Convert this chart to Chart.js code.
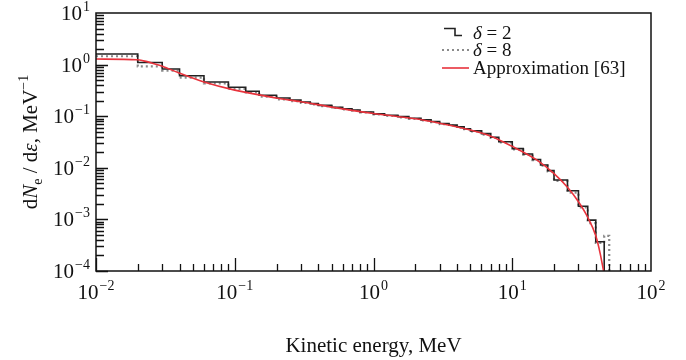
<!DOCTYPE html>
<html>
<head>
<meta charset="utf-8">
<script src="https://cdn.jsdelivr.net/npm/chart.js@4.4.1/dist/chart.umd.min.js"></script>
<style>
  html, body { margin: 0; padding: 0; background: #fff; }
</style>
</head>
<body>
<canvas id="spectrum" width="686" height="360"></canvas>
<script>
// histogram for delta = 2: bin edges (MeV) and dN/de in each bin
const edgesD2 = [0.01, 0.02, 0.03, 0.04, 0.06, 0.09, 0.12, 0.15, 0.2, 0.25, 0.3, 0.35, 0.4, 0.5, 0.6, 0.7, 0.8, 1.0,
  1.2, 1.5, 1.8, 2.2, 2.6, 3.0, 3.5, 4.0, 4.5, 5.0, 6.0, 7.0, 8.0, 10, 12, 14, 16, 18, 20, 25, 30, 35, 40, 46];
const valuesD2 = [1.6, 1.1, 0.82, 0.61, 0.46, 0.365, 0.305, 0.255, 0.225, 0.205, 0.188, 0.175, 0.162, 0.148, 0.139, 0.132, 0.121,
  0.111, 0.104, 0.098, 0.091, 0.085, 0.079, 0.072, 0.067, 0.062, 0.057, 0.052, 0.046, 0.039, 0.032,
  0.0235, 0.0185, 0.0145, 0.0113, 0.0088, 0.0058, 0.0036, 0.0018, 0.00097, 0.00037];

// histogram for delta = 8
const edgesD8 = [0.01, 0.02, 0.03, 0.04, 0.06, 0.09, 0.12, 0.15, 0.2, 0.25, 0.3, 0.35, 0.4, 0.5, 0.6, 0.7, 0.8, 1.0,
  1.2, 1.5, 1.8, 2.2, 2.6, 3.0, 3.5, 4.0, 4.5, 5.0, 6.0, 7.0, 8.0, 10, 12, 14, 16, 18, 20, 25, 30, 35, 40, 46, 50];
const valuesD8 = [1.45, 0.92, 0.76, 0.56, 0.43, 0.34, 0.29, 0.24, 0.212, 0.196, 0.182, 0.17, 0.157, 0.145, 0.136, 0.128, 0.118,
  0.108, 0.101, 0.095, 0.089, 0.083, 0.077, 0.07, 0.066, 0.06, 0.056, 0.051, 0.044, 0.038, 0.031,
  0.0228, 0.018, 0.014, 0.011, 0.0085, 0.0056, 0.0033, 0.0017, 0.00085, 0.00035, 0.00048];

// approximation curve
const approxEnergy = [0.01, 0.02, 0.022, 0.025, 0.03, 0.04, 0.06, 0.1, 0.2, 0.3, 0.5, 1, 2, 3, 5, 7, 10, 15, 20, 25, 30, 35, 40, 43, 45.5];
const approxValue = [1.28, 1.24, 1.18, 1.08, 0.93, 0.68, 0.46, 0.32, 0.225, 0.19, 0.15, 0.113, 0.089, 0.073, 0.054, 0.041,
  0.026, 0.0142, 0.0077, 0.0042, 0.0022, 0.0011, 0.00048, 0.00022, 0.0001];

const xMajor = [1e-2, 1e-1, 1, 10, 100];
const xMajorExp = ['\u22122', '\u22121', '0', '1', '2'];
const yMajor = [1e-4, 1e-3, 1e-2, 1e-1, 1, 10];
const yMajorExp = ['\u22124', '\u22123', '\u22122', '\u22121', '0', '1'];

const serif = '"Liberation Serif", "DejaVu Serif", serif';

// step line: flat across each bin, then down to the axis after the last one
function histPoints(edges, values) {
  const pts = values.map((v, i) => ({ x: edges[i], y: v }));
  pts.push({ x: edges[edges.length - 1], y: 1e-6 });
  return pts;
}

function drawPow(ctx, x, y, exp, align) {
  ctx.font = '21px ' + serif;
  const wb = ctx.measureText('10').width;
  ctx.font = '14px ' + serif;
  const we = ctx.measureText(exp).width;
  const w = wb + we + 1;
  let x0 = align === 'right' ? x - w : x - w / 2;
  ctx.textBaseline = 'alphabetic';
  ctx.textAlign = 'left';
  ctx.font = '21px ' + serif;
  ctx.fillText('10', x0, y);
  ctx.font = '14px ' + serif;
  ctx.fillText(exp, x0 + wb + 1, y - 9);
}

function drawRich(ctx, parts, x, y) {
  let cx = x;
  parts.forEach(p => {
    ctx.font = p.f;
    ctx.fillText(p.t, cx, y + (p.dy || 0));
    cx += ctx.measureText(p.t).width;
  });
  return cx - x;
}

function richWidth(ctx, parts) {
  let w = 0;
  parts.forEach(p => { ctx.font = p.f; w += ctx.measureText(p.t).width; });
  return w;
}

const axesPlugin = {
  id: 'axesPlugin',
  afterDraw(chart) {
    const { ctx, chartArea: a } = chart;
    const xs = chart.scales.x, ys = chart.scales.y;
    ctx.save();
    ctx.strokeStyle = '#111';
    ctx.fillStyle = '#111';
    ctx.lineWidth = 1.5;
    ctx.strokeRect(a.left, a.top, a.right - a.left, a.bottom - a.top);

    ctx.lineWidth = 1.3;
    ctx.beginPath();
    // x ticks, pointing into the plot
    for (let k = -2; k <= 1; k++) {
      for (let m = 1; m <= 9; m++) {
        const px = Math.round(xs.getPixelForValue(m * Math.pow(10, k))) + 0.5;
        const len = m === 1 ? 13 : 7;
        ctx.moveTo(px, a.bottom);
        ctx.lineTo(px, a.bottom - len);
      }
    }
    // y ticks
    for (let k = -4; k <= 0; k++) {
      for (let m = 1; m <= 9; m++) {
        const py = Math.round(ys.getPixelForValue(m * Math.pow(10, k))) + 0.5;
        const len = m === 1 ? 12 : 8;
        ctx.moveTo(a.left, py);
        ctx.lineTo(a.left + len, py);
      }
    }
    ctx.stroke();

    xMajor.forEach((v, i) => drawPow(ctx, xs.getPixelForValue(v), a.bottom + 28, xMajorExp[i], 'center'));
    yMajor.forEach((v, i) => drawPow(ctx, a.left - 6, ys.getPixelForValue(v) + 7, yMajorExp[i], 'right'));

    // axis titles
    ctx.font = '21px ' + serif;
    ctx.textAlign = 'center';
    ctx.fillText('Kinetic energy, MeV', (a.left + a.right) / 2, 352);
    ctx.textAlign = 'left';

    const yTitle = [
      { t: 'd', f: '21px ' + serif },
      { t: 'N', f: 'italic 21px ' + serif },
      { t: 'e', f: '14px ' + serif, dy: 5 },
      { t: ' / d', f: '21px ' + serif },
      { t: '\u03b5', f: 'italic 21px ' + serif },
      { t: ', MeV', f: '21px ' + serif },
      { t: '\u22121', f: '14px ' + serif, dy: -9 }
    ];
    const tw = richWidth(ctx, yTitle);
    ctx.save();
    ctx.translate(37, (a.top + a.bottom) / 2);
    ctx.rotate(-Math.PI / 2);
    drawRich(ctx, yTitle, -tw / 2, 0);
    ctx.restore();

    // legend
    const lx = 442, tx = 473;
    ctx.lineWidth = 1.6;
    ctx.strokeStyle = '#222';
    ctx.beginPath();
    ctx.moveTo(lx + 2, 28.5); ctx.lineTo(lx + 13, 28.5); ctx.lineTo(lx + 13, 35.5); ctx.lineTo(lx + 20, 35.5);
    ctx.stroke();
    ctx.strokeStyle = '#8a8a8a';
    ctx.lineWidth = 2.2;
    ctx.setLineDash([2, 3]);
    ctx.beginPath();
    ctx.moveTo(lx, 50); ctx.lineTo(lx + 29, 50);
    ctx.stroke();
    ctx.setLineDash([]);
    ctx.strokeStyle = '#e8333c';
    ctx.lineWidth = 1.6;
    ctx.beginPath();
    ctx.moveTo(lx, 68); ctx.lineTo(lx + 27, 68);
    ctx.stroke();

    ctx.fillStyle = '#111';
    const lf = '19px ' + serif;
    drawRich(ctx, [{ t: '\u03b4', f: 'italic ' + lf }, { t: ' = 2', f: lf }], tx, 39);
    drawRich(ctx, [{ t: '\u03b4', f: 'italic ' + lf }, { t: ' = 8', f: lf }], tx, 56);
    drawRich(ctx, [{ t: 'Approximation [63]', f: lf }], tx, 74);
    ctx.restore();
  }
};

const config = {
  type: 'line',
  data: {
    datasets: [
      {
        label: 'Approximation [63]',
        data: approxEnergy.map((e, i) => ({ x: e, y: approxValue[i] })),
        borderColor: '#e8333c',
        borderWidth: 1.6,
        cubicInterpolationMode: 'monotone',
        pointRadius: 0,
        order: 0
      },
      {
        label: 'delta = 2',
        data: histPoints(edgesD2, valuesD2),
        borderColor: '#222',
        borderWidth: 1.6,
        stepped: 'before',
        pointRadius: 0,
        order: 1
      },
      {
        label: 'delta = 8',
        data: histPoints(edgesD8, valuesD8),
        borderColor: '#8a8a8a',
        borderWidth: 2.2,
        borderDash: [2, 3],
        stepped: 'before',
        pointRadius: 0,
        order: 2
      }
    ]
  },
  options: {
    responsive: false,
    animation: false,
    layout: { padding: { left: 96, right: 35, top: 13, bottom: 89 } },
    plugins: { legend: { display: false }, tooltip: { enabled: false } },
    scales: {
      x: { type: 'logarithmic', min: 0.01, max: 100, display: false },
      y: { type: 'logarithmic', min: 1e-4, max: 10, display: false }
    }
  },
  plugins: [axesPlugin]
};

new Chart(document.getElementById('spectrum'), config);
</script>
</body>
</html>
